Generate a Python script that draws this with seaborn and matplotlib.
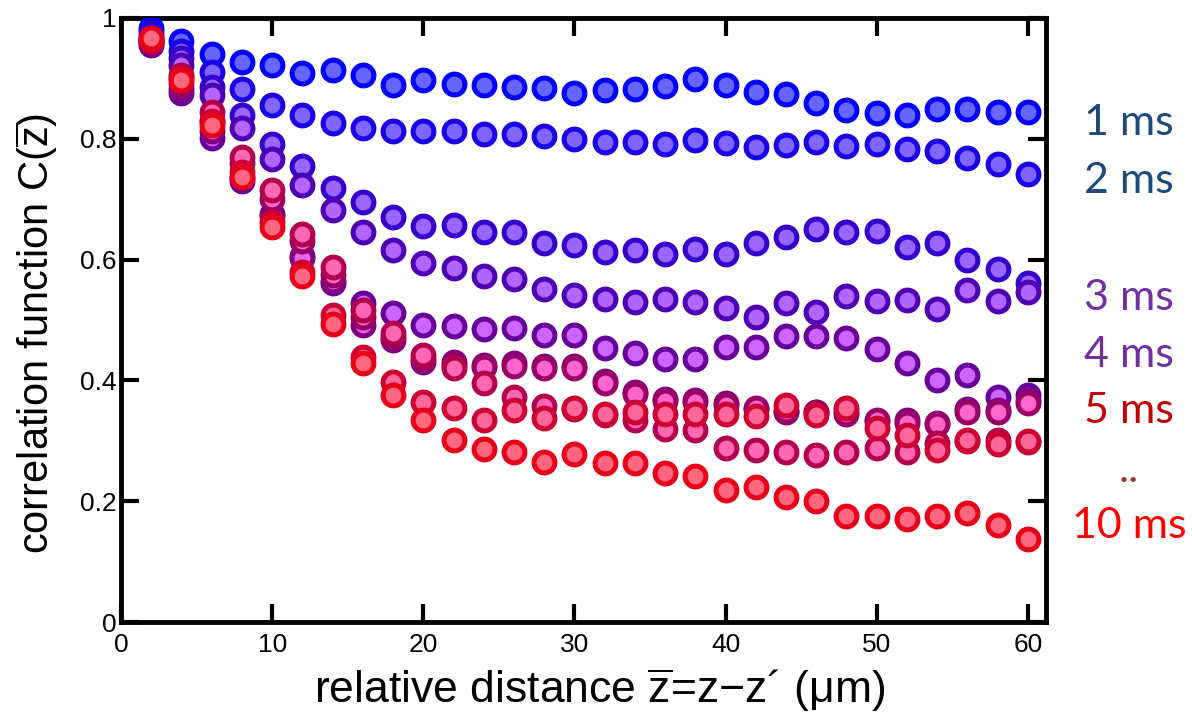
import numpy as np
import pandas as pd
import matplotlib
matplotlib.use("Agg")
import matplotlib.pyplot as plt
import seaborn as sns

# ---------------- data ----------------
distance = list(range(2, 61, 2))  # µm

s1 = [0.983, 0.961, 0.941, 0.927, 0.922, 0.908, 0.914, 0.906, 0.889, 0.897,
      0.890, 0.889, 0.885, 0.884, 0.875, 0.880, 0.882, 0.887, 0.899, 0.889,
      0.877, 0.874, 0.859, 0.848, 0.842, 0.840, 0.849, 0.849, 0.845, 0.845]
s2 = [0.978, 0.946, 0.911, 0.883, 0.855, 0.839, 0.826, 0.817, 0.813, 0.812,
      0.813, 0.808, 0.808, 0.805, 0.799, 0.795, 0.794, 0.791, 0.798, 0.793,
      0.786, 0.790, 0.794, 0.788, 0.791, 0.783, 0.779, 0.768, 0.758, 0.742]
s3 = [0.972, 0.934, 0.886, 0.839, 0.792, 0.755, 0.718, 0.696, 0.671, 0.656,
      0.657, 0.645, 0.646, 0.628, 0.624, 0.613, 0.616, 0.609, 0.617, 0.610,
      0.628, 0.637, 0.651, 0.645, 0.648, 0.621, 0.628, 0.599, 0.584, 0.562]
s4 = [0.965, 0.922, 0.872, 0.817, 0.766, 0.724, 0.682, 0.646, 0.616, 0.595,
      0.586, 0.572, 0.567, 0.551, 0.541, 0.534, 0.530, 0.534, 0.529, 0.520,
      0.505, 0.528, 0.514, 0.540, 0.532, 0.533, 0.518, 0.550, 0.531, 0.546]
s5 = [0.955, 0.875, 0.802, 0.730, 0.675, 0.606, 0.562, 0.528, 0.511, 0.492,
      0.490, 0.485, 0.487, 0.475, 0.475, 0.453, 0.446, 0.436, 0.436, 0.455,
      0.456, 0.474, 0.474, 0.470, 0.452, 0.428, 0.400, 0.409, 0.373, 0.375]
s6 = [0.958, 0.882, 0.812, 0.735, 0.672, 0.602, 0.565, 0.492, 0.467, 0.431,
      0.431, 0.425, 0.428, 0.423, 0.424, 0.399, 0.381, 0.370, 0.368, 0.363,
      0.352, 0.348, 0.347, 0.347, 0.332, 0.334, 0.330, 0.352, 0.351, 0.367]
s7 = [0.960, 0.890, 0.830, 0.760, 0.700, 0.630, 0.575, 0.505, 0.472, 0.436,
      0.425, 0.422, 0.424, 0.420, 0.420, 0.395, 0.378, 0.366, 0.365, 0.360,
      0.355, 0.350, 0.348, 0.344, 0.335, 0.330, 0.328, 0.348, 0.348, 0.362]
s8 = [0.962, 0.905, 0.845, 0.770, 0.715, 0.643, 0.588, 0.517, 0.478, 0.442,
      0.420, 0.395, 0.373, 0.358, 0.352, 0.342, 0.334, 0.319, 0.318, 0.288,
      0.285, 0.282, 0.277, 0.282, 0.288, 0.282, 0.296, 0.300, 0.302, 0.298]
s9 = [0.964, 0.900, 0.830, 0.745, 0.662, 0.580, 0.508, 0.439, 0.398, 0.365,
      0.354, 0.334, 0.351, 0.337, 0.354, 0.345, 0.347, 0.344, 0.344, 0.344,
      0.341, 0.359, 0.343, 0.354, 0.321, 0.310, 0.285, 0.301, 0.295, 0.300]
s10 = [0.966, 0.897, 0.822, 0.737, 0.654, 0.572, 0.493, 0.428, 0.375, 0.334,
       0.301, 0.287, 0.282, 0.265, 0.278, 0.264, 0.264, 0.246, 0.242, 0.219,
       0.223, 0.207, 0.201, 0.176, 0.176, 0.170, 0.175, 0.180, 0.160, 0.138]

series = [s1, s2, s3, s4, s5, s6, s7, s8, s9, s10]
delays = ["1 ms", "2 ms", "3 ms", "4 ms", "5 ms", "6 ms", "7 ms", "8 ms", "9 ms", "10 ms"]

x_ticks = [0, 10, 20, 30, 40, 50, 60]
y_ticks = [0, 0.2, 0.4, 0.6, 0.8, 1]
y_ticklabels = ["0", "0.2", "0.4", "0.6", "0.8", "1"]

side_labels = ["1 ms", "2 ms", "3 ms", "4 ms", "5 ms", "..", "10 ms"]
side_colors = ["#1F497D", "#1F497D", "#7030A0", "#7030A0", "#C00000", "#953735", "#FF0000"]
side_y = [0.811, 0.730, 0.566, 0.487, 0.408, 0.326, 0.247]

# ---------------- plot ----------------
sns.set_style("ticks")
plt.rcParams["font.family"] = ["Liberation Sans", "DejaVu Sans"]
plt.rcParams["mathtext.fontset"] = "custom"
plt.rcParams["mathtext.rm"] = "Liberation Sans"
plt.rcParams["mathtext.it"] = "Liberation Sans"
plt.rcParams["text.color"] = "black"
plt.rcParams["axes.labelcolor"] = "black"

fig = plt.figure(figsize=(11.92, 7.15), dpi=100)
ax = fig.add_axes([0.1015, 0.130, 0.776, 0.845])

rows = []
for name, vals in zip(delays, series):
    for d, v in zip(distance, vals):
        rows.append({"distance": d, "C": v, "delay": name})
df = pd.DataFrame(rows)

n = len(delays)
for i, name in enumerate(delays):
    t = i / (n - 1)
    edge = (0.9 * t, 0.0, 1.0 - 0.9 * t)
    fill = tuple(min(c + 0.40, 1.0) for c in edge)
    sub = df[df["delay"] == name]
    sns.scatterplot(data=sub, x="distance", y="C", ax=ax, s=225,
                    color=fill, edgecolor=edge, linewidth=3.6,
                    legend=False, zorder=3 + i)

ax.set_xlim(0, 61.2)
ax.set_ylim(0, 1)
ax.set_xticks(x_ticks)
ax.set_yticks(y_ticks)
ax.set_yticklabels(y_ticklabels)
ax.tick_params(direction="in", length=13, width=3, top=True, right=True,
               labelsize=19, colors="black", labelcolor="black")
ax.tick_params(axis="y", pad=3)
ax.tick_params(axis="x", pad=8)
for sp in ax.spines.values():
    sp.set_linewidth(3.5)
    sp.set_color("black")
    sp.set_visible(True)

ax.set_xlabel("relative distance $\\overline{\\mathrm{z}}$=z\u2212z\u00b4 (\u03bcm)",
              fontsize=32, color="black")
ax.set_ylabel("correlation function C($\\overline{\\mathrm{z}}$)",
              fontsize=30, color="black")
ax.xaxis.set_label_coords(0.518, -0.072)
ax.yaxis.set_label_coords(-0.066, 0.478)

for lab, col, yy in zip(side_labels, side_colors, side_y):
    fig.text(0.947, yy, lab, color=col, fontsize=31, ha="center", va="baseline",
             family=["Lato", "DejaVu Sans"])

fig.savefig("out.png", dpi=100)
